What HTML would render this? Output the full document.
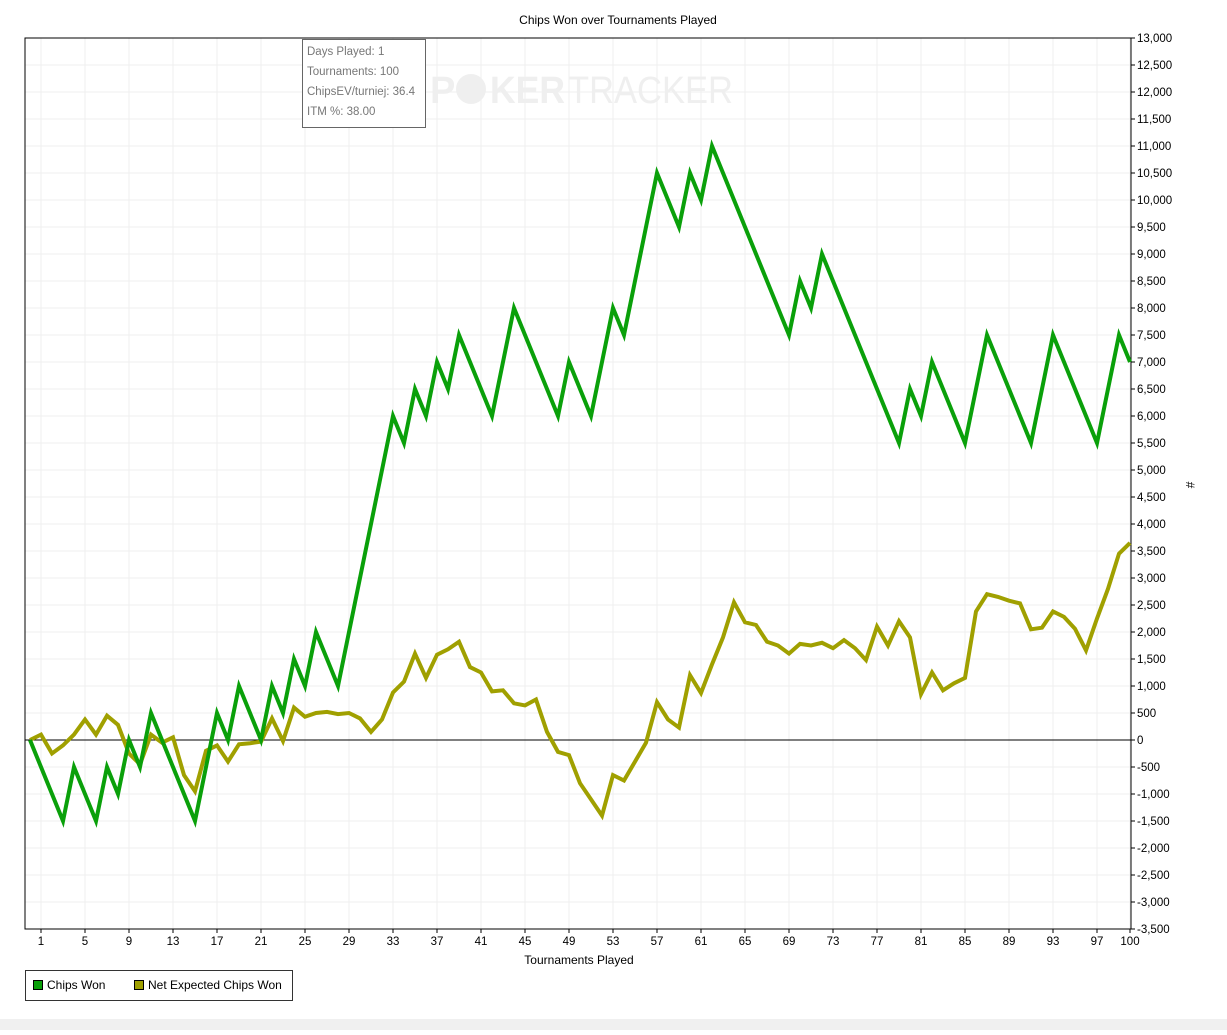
<!DOCTYPE html>
<html><head><meta charset="utf-8"><style>
body{margin:0;background:#fff;width:1227px;height:1030px;overflow:hidden;font-family:"Liberation Sans",sans-serif}
</style></head><body>
<svg id="s" width="1227" height="1030" xmlns="http://www.w3.org/2000/svg" font-family="Liberation Sans, sans-serif"></svg>
<script>
const s=document.getElementById('s');let h='';
const X=t=>30+11*t, Y=v=>740-v*0.054;
h+='<rect x="0" y="1019" width="1227" height="11" fill="#f0f0f0"/>';
h+='<text x="618" y="24" font-size="12" text-anchor="middle" fill="#000">Chips Won over Tournaments Played</text>';
for(let v=-3500;v<=13000;v+=500){const y=Y(v);h+=`<line x1="25" x2="1131" y1="${y}" y2="${y}" stroke="#efefef"/>`;
h+=`<line x1="1131" x2="1135" y1="${y}" y2="${y}" stroke="#000"/>`;
h+=`<text x="1137" y="${y+4}" font-size="11.5" fill="#000">${v.toLocaleString('en-US')}</text>`;}
const xt=[];for(let t=1;t<=97;t+=4)xt.push(t);xt.push(100);
xt.forEach(t=>{const x=X(t);h+=`<line x1="${x}" x2="${x}" y1="38" y2="929" stroke="#efefef"/><line x1="${x}" x2="${x}" y1="929" y2="933" stroke="#000"/><text x="${x}" y="945" font-size="11.5" text-anchor="middle">${t}</text>`;});
h+='<rect x="25" y="38" width="1106" height="891" fill="none" stroke="#000"/>';
h+='<line x1="25" x2="1131" y1="740" y2="740" stroke="#000"/>';
h+='<text x="579" y="964" font-size="12" text-anchor="middle">Tournaments Played</text>';
h+='<text x="1186" y="485" font-size="12" transform="rotate(90 1186 485)" text-anchor="middle">#</text>';
h+='<text x="430" y="103" font-size="38" font-weight="bold" fill="#efefef">P</text><circle cx="471" cy="89" r="15" fill="#efefef"/><text x="490" y="103" font-size="38" font-weight="bold" fill="#efefef" textLength="75" lengthAdjust="spacingAndGlyphs">KER</text><text x="568" y="103" font-size="38" fill="#efefef" textLength="165" lengthAdjust="spacingAndGlyphs">TRACKER</text>';
const seq="LLLWLLWLWLWLLLLWWLWLLWLWLWLLWWWWWLWLWLWLLLWWLLLLWLLWWLWWWLLWLWLLLLLLLWLWLLLLLLLWLWLLLWWLLLLWWLLLLWWL";
let v=0,g=[[X(0),Y(0)]];for(let i=0;i<100;i++){v+=seq[i]=='W'?1000:-500;g.push([X(i+1),Y(v)]);}
const o=[0,100,-250,-100,100,380,100,450,280,-250,-450,100,-50,50,-650,-950,-200,-100,-400,-80,-60,-30,400,-20,600,430,500,520,480,500,400,150,380,880,1080,1600,1150,1580,1680,1820,1350,1250,900,920,680,640,750,150,-220,-280,-800,-1100,-1400,-650,-750,-400,-50,700,380,230,1200,870,1400,1900,2550,2180,2130,1820,1750,1600,1780,1750,1800,1700,1850,1700,1480,2100,1750,2200,1900,850,1250,920,1050,1150,2380,2700,2650,2580,2530,2050,2080,2380,2280,2060,1660,2250,2800,3450,3650];
h+=`<polyline points="${o.map((a,i)=>X(i)+','+Y(a)).join(' ')}" fill="none" stroke="#a0a000" stroke-width="4"/>`;
h+=`<polyline points="${g.map(p=>p.join(',')).join(' ')}" fill="none" stroke="#0aa00a" stroke-width="4"/>`;
h+='<rect x="302.5" y="39.5" width="123" height="88" fill="#fff" stroke="#666"/>';
[['Days Played: 1',55],['Tournaments: 100',75],['ChipsEV/turniej: 36.4',95],['ITM %: 38.00',115]].forEach(a=>h+=`<text x="307" y="${a[1]}" font-size="11.5" fill="#777">${a[0]}</text>`);
h+='<rect x="25.5" y="970.5" width="267" height="30" fill="#fff" stroke="#333"/>';
h+='<rect x="33.5" y="980.5" width="9" height="9" fill="#0aa00a" stroke="#000"/><text x="47" y="989" font-size="12">Chips Won</text>';
h+='<rect x="134.5" y="980.5" width="9" height="9" fill="#a0a000" stroke="#000"/><text x="148" y="989" font-size="12">Net Expected Chips Won</text>';
s.innerHTML=h;
</script>
</body></html>
